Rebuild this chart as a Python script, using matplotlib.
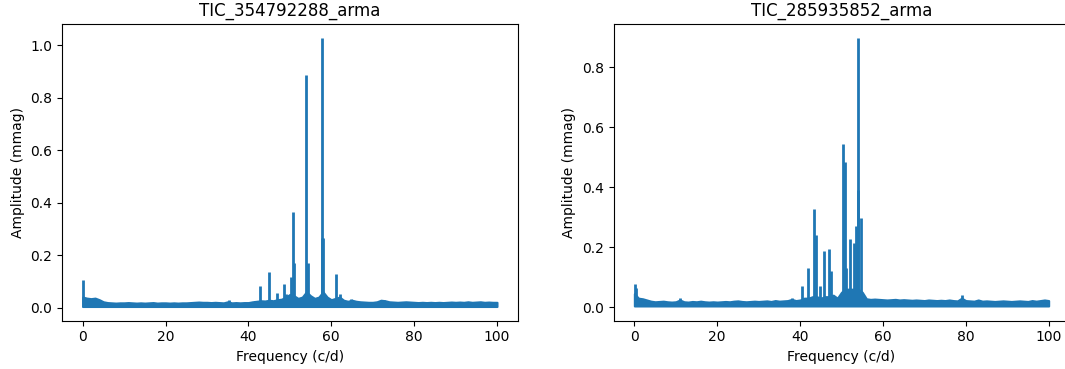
#!/usr/bin/env python

import numpy as np
import matplotlib.pyplot as plt

# Noise envelope sampled every 1 c/d (0..100)
noise_freq = np.arange(0, 101)
noise_low = 0.004

noise_top_354 = [
    0.040, 0.036, 0.034, 0.036, 0.030, 0.022, 0.019, 0.018, 0.017, 0.018,
    0.018, 0.019, 0.018, 0.017, 0.018, 0.017, 0.018, 0.019, 0.017, 0.018,
    0.018, 0.017, 0.018, 0.017, 0.018, 0.018, 0.019, 0.020, 0.021, 0.020,
    0.020, 0.019, 0.020, 0.019, 0.018, 0.022, 0.018, 0.019, 0.018, 0.019,
    0.019, 0.022, 0.024, 0.026, 0.025, 0.028, 0.026, 0.030, 0.032, 0.040,
    0.050, 0.045, 0.035, 0.040, 0.060, 0.045, 0.035, 0.040, 0.060, 0.040,
    0.030, 0.035, 0.040, 0.028, 0.024, 0.028, 0.024, 0.022, 0.021, 0.020,
    0.020, 0.022, 0.028, 0.026, 0.022, 0.021, 0.020, 0.021, 0.022, 0.021,
    0.020, 0.019, 0.020, 0.019, 0.020, 0.019, 0.020, 0.019, 0.020, 0.021,
    0.020, 0.021, 0.020, 0.022, 0.020, 0.021, 0.022, 0.020, 0.021, 0.020,
    0.020,
]

noise_top_285 = [
    0.045, 0.030, 0.028, 0.024, 0.020, 0.018, 0.019, 0.020, 0.018, 0.017,
    0.018, 0.024, 0.018, 0.017, 0.019, 0.018, 0.020, 0.018, 0.017, 0.018,
    0.017, 0.018, 0.019, 0.018, 0.020, 0.021, 0.019, 0.018, 0.019, 0.020,
    0.019, 0.020, 0.021, 0.019, 0.022, 0.020, 0.021, 0.022, 0.026, 0.022,
    0.024, 0.030, 0.030, 0.035, 0.035, 0.030, 0.035, 0.035, 0.040, 0.030,
    0.050, 0.060, 0.060, 0.060, 0.060, 0.050, 0.028, 0.026, 0.027, 0.026,
    0.025, 0.024, 0.025, 0.026, 0.024, 0.025, 0.024, 0.023, 0.024, 0.023,
    0.022, 0.024, 0.023, 0.022, 0.023, 0.022, 0.024, 0.022, 0.021, 0.030,
    0.022, 0.021, 0.020, 0.024, 0.020, 0.021, 0.020, 0.019, 0.020, 0.021,
    0.020, 0.019, 0.020, 0.021, 0.020, 0.019, 0.022, 0.020, 0.022, 0.024,
    0.022,
]

# Pulsation peaks (frequency c/d, amplitude mmag)
peak_freq_354 = [0.1, 35.4, 41.5, 42.8, 44.9, 46.9, 48.5, 49.0, 50.3, 50.8,
                 51.1, 53.9, 54.3, 57.7, 57.8, 57.9, 61.1, 62.0, 64.7, 72.7]
peak_amp_354 = [0.104, 0.030, 0.025, 0.083, 0.137, 0.056, 0.089, 0.050, 0.117, 0.365,
                0.170, 0.887, 0.170, 0.265, 1.028, 0.265, 0.127, 0.050, 0.032, 0.030]

peak_freq_285 = [0.1, 0.4, 11.0, 38.0, 40.5, 41.9, 43.3, 43.8, 44.9, 45.8, 46.9,
                 47.5, 50.3, 50.9, 51.2, 52.1, 52.9, 53.5, 53.9, 54.1, 54.7, 79.0]
peak_amp_285 = [0.078, 0.065, 0.030, 0.032, 0.070, 0.130, 0.328, 0.241, 0.069, 0.187, 0.194,
                0.120, 0.544, 0.483, 0.130, 0.228, 0.214, 0.272, 0.898, 0.390, 0.296, 0.039]

targets = [
    ("TIC_354792288_arma", noise_top_354, peak_freq_354, peak_amp_354),
    ("TIC_285935852_arma", noise_top_285, peak_freq_285, peak_amp_285),
]

fig = plt.figure(figsize=(10.65, 3.69), dpi=100)
axes = [fig.add_axes([0.0582, 0.131, 0.4279, 0.803]),
        fig.add_axes([0.5762, 0.131, 0.4279, 0.803])]

for ax, (name, noise_top, pf, pa) in zip(axes, targets):
    ax.fill_between(noise_freq, noise_low, noise_top, color="C0", lw=1.5)
    ax.vlines(pf, noise_low, pa, color="C0", lw=2)
    ax.set_title(name)
    ax.set_xlabel("Frequency (c/d)")
    ax.set_ylabel("Amplitude (mmag)")
    ax.margins(x=0.05, y=0.05)

axes[0].set_ylim(-0.05, 1.08)
axes[1].set_ylim(-0.045, 0.943)

fig.savefig("out.png", dpi=100)
